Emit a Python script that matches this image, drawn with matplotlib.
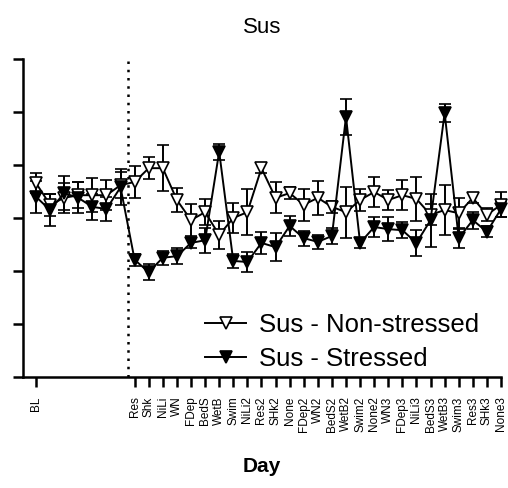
import numpy as np
import matplotlib
matplotlib.use("Agg")
import matplotlib.pyplot as plt
from matplotlib.lines import Line2D

plt.rcParams['font.family'] = ['Liberation Sans', 'DejaVu Sans']

# x categories: 7 baseline points share the "BL" tick, then one point per day
n_baseline = 7
days = ["Res", "Shk", "NiLi", "WN", "FDep", "BedS", "WetB", "Swim", "NiLi2",
        "Res2", "SHk2", "None", "FDep2", "WN2", "BedS2", "WetB2", "Swim2",
        "None2", "WN3", "FDep3", "NiLi3", "BedS3", "WetB3", "Swim3", "Res3",
        "SHk3", "None3"]

# mean and error (SEM), axis units 0..6
ns_mean = [3.66, 3.25, 3.38, 3.43, 3.43, 3.43, 3.62,
           3.68, 3.94, 3.94, 3.34, 2.96, 3.11, 2.68, 3.00, 3.11,
           3.94, 3.38, 3.47, 3.25, 3.38, 3.21, 3.11, 3.34, 3.49,
           3.34, 3.43, 3.36, 3.06, 3.15, 3.09, 3.38, 3.06, 3.25]
ns_err = [0.19, 0.21, 0.28, 0.25, 0.32, 0.28, 0.25,
          0.30, 0.21, 0.43, 0.23, 0.30, 0.25, 0.26, 0.28, 0.44,
          0.10, 0.29, 0.12, 0.30, 0.32, 0.12, 0.48, 0.21, 0.29,
          0.18, 0.28, 0.41, 0.20, 0.47, 0.28, 0.09, 0.12, 0.24]
st_mean = [3.40, 3.15, 3.47, 3.38, 3.21, 3.17, 3.58,
           2.21, 1.98, 2.25, 2.28, 2.53, 2.58, 4.25, 2.19, 2.17,
           2.53, 2.45, 2.85, 2.62, 2.55, 2.66, 4.91, 2.53, 2.83,
           2.79, 2.77, 2.53, 2.96, 4.98, 2.62, 2.96, 2.74, 3.17]
st_err = [0.30, 0.30, 0.32, 0.29, 0.25, 0.22, 0.34,
          0.12, 0.15, 0.13, 0.15, 0.09, 0.24, 0.15, 0.13, 0.18,
          0.21, 0.27, 0.19, 0.14, 0.13, 0.15, 0.34, 0.09, 0.19,
          0.23, 0.15, 0.24, 0.50, 0.17, 0.18, 0.16, 0.10, 0.15]

x = np.arange(len(ns_mean))
tick_pos = [0] + list(range(n_baseline, len(ns_mean)))
tick_lab = ["BL"] + days

fig = plt.figure(figsize=(5.08, 4.88), dpi=100)
ax = fig.add_axes([23/508, 1 - 377/488, (501 - 23)/508, (377 - 59)/488])

common = dict(color="black", lw=1.4, elinewidth=1.4, capsize=4.3,
              capthick=2.0, ms=9, mew=1.2, clip_on=False)
ax.errorbar(x, ns_mean, yerr=ns_err, fmt="v-", mfc="white", mec="black",
            **common)
ax.errorbar(x, st_mean, yerr=st_err, fmt="v-", mfc="black", mec="black",
            **common)

# dotted separator between baseline and stress days
ax.axvline(n_baseline - 0.5, color="black", lw=1.8, ls=(0, (1, 2.3)))

ax.set_xlim((23 - 36) / 14.1, len(ns_mean) - 1)
ax.set_ylim(0, 6)
ax.set_yticks(np.arange(0, 7))
ax.set_yticklabels([])
ax.set_xticks(tick_pos)
ax.set_xticklabels(tick_lab, rotation=90, fontsize=8.5)

for side in ["top", "right"]:
    ax.spines[side].set_visible(False)
for side in ["left", "bottom"]:
    ax.spines[side].set_linewidth(1.8)
ax.tick_params(axis="y", length=7.2, width=1.8, direction="out")
ax.tick_params(axis="x", length=7, width=1.8, direction="out", pad=7)

ax.set_title("Sus", fontsize=16, pad=19)
fig.text(262/508, 1 - 466/488, "Day", fontsize=15, fontweight="bold",
         ha="center", va="center")

# legend shows just line + marker, no error bars
handles = [
    Line2D([], [], color="black", lw=1.4, marker="v", ms=9, mew=1.2,
           mfc="white", mec="black"),
    Line2D([], [], color="black", lw=1.4, marker="v", ms=9, mew=1.2,
           mfc="black", mec="black"),
]
ax.legend(handles, ["Sus - Non-stressed", "Sus - Stressed"],
          loc="upper left", bbox_to_anchor=((205 - 23)/478, (377 - 313)/318),
          frameon=False, fontsize=18.5, handlelength=1.6, handletextpad=0.5,
          labelspacing=0.38, borderpad=0, borderaxespad=0)

fig.savefig("out.png", dpi=100)
